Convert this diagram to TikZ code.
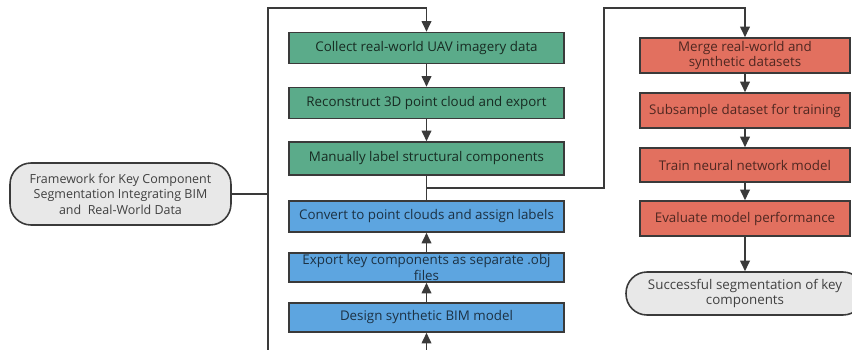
\documentclass[tikz,border=0pt]{standalone}
\usepackage{fontspec}
\setmainfont{Open Sans}
\usetikzlibrary{arrows.meta}
\definecolor{stepgreen}{HTML}{5BAB8A}
\definecolor{stepblue}{HTML}{5DA5E0}
\definecolor{stepred}{HTML}{E2705F}
\definecolor{termgray}{HTML}{E8E8E8}
\definecolor{lineclr}{HTML}{3A3A3A}
\begin{document}
\begin{tikzpicture}[x=0.02cm, y=-0.02cm,
	box/.style={draw=lineclr, line width=0.9pt, minimum height=0.62cm, inner sep=1pt, font=\fontsize{7.6}{8.4}\selectfont},
	greenbox/.style={box, fill=stepgreen, text=black!75!stepgreen, minimum width=5.5cm},
	bluebox/.style={box, fill=stepblue, text=black!70!stepblue, minimum width=5.5cm},
	redbox/.style={box, fill=stepred, text=black!65!stepred, minimum width=4.2cm, minimum height=0.7cm},
	term/.style={draw=lineclr, line width=0.9pt, fill=termgray, rounded corners=0.42cm, text=black!75, align=center, font=\fontsize{7.6}{9}\selectfont},
	conn/.style={draw=lineclr, line width=0.8pt},
	arr/.style={conn, -{Triangle[length=6pt, width=5.5pt]}}]
	\useasboundingbox (0,0) rectangle (852,349);
	
	% start node
	\node[term, minimum width=4.42cm, minimum height=1.24cm, font=\fontsize{7.1}{8.9}\selectfont] (start) at (120.5,194)
		{Framework for Key Component\\Segmentation Integrating BIM\\and\ \ Real-World Data};
	
	% real-world branch (green)
	\node[greenbox] (collect) at (426.5,48) {Collect real-world UAV imagery data};
	\node[greenbox] (recon) at (426.5,103) {Reconstruct 3D point cloud and export};
	\node[greenbox, minimum height=0.66cm] (label) at (426.5,158.5) {Manually label structural components};
	
	% synthetic branch (blue)
	\node[bluebox] (convert) at (426.5,216.5) {Convert to point clouds and assign labels};
	\node[bluebox, minimum height=0.58cm, align=center, font=\fontsize{7.6}{7.2}\selectfont] (export) at (426.5,267.5)
		{Export key components as separate .obj\\files};
	\node[bluebox, minimum height=0.58cm] (design) at (426.5,317.5) {Design synthetic BIM model};
	
	% training (red)
	\node[redbox, align=center] (merge) at (745,55.5) {Merge real-world and\\synthetic datasets};
	\node[redbox] (subsample) at (745,110.5) {Subsample dataset for training};
	\node[redbox, minimum height=0.68cm] (train) at (745,165) {Train neural network model};
	\node[redbox] (evaluate) at (745,218.5) {Evaluate model performance};
	\node[term, minimum width=4.76cm, minimum height=0.86cm] (result) at (745,293.5)
		{Successful segmentation of key\\components};
	
	\coordinate (trunk) at (268,194);
	\coordinate (join) at (426.5,188);
	
	% connectors
	\draw[conn] (start.east) -- (trunk);
	\draw[arr] (trunk) |- (268,8) -| (collect.north);
	\draw[arr] (trunk) |- (268,365) -| (design.south);
	\draw[arr] (collect) -- (recon);
	\draw[arr] (recon) -- (label);
	\draw[conn] (label.south) -- (join);
	\draw[conn] (convert.north) -- (join);
	\draw[arr] (design) -- (export);
	\draw[arr] (export) -- (convert);
	\draw[arr] (join) -| (604,8) -| (merge.north);
	\draw[arr] (merge) -- (subsample);
	\draw[arr] (subsample) -- (train);
	\draw[arr] (train) -- (evaluate);
	\draw[arr] (evaluate) -- (result);
\end{tikzpicture}
\end{document}
